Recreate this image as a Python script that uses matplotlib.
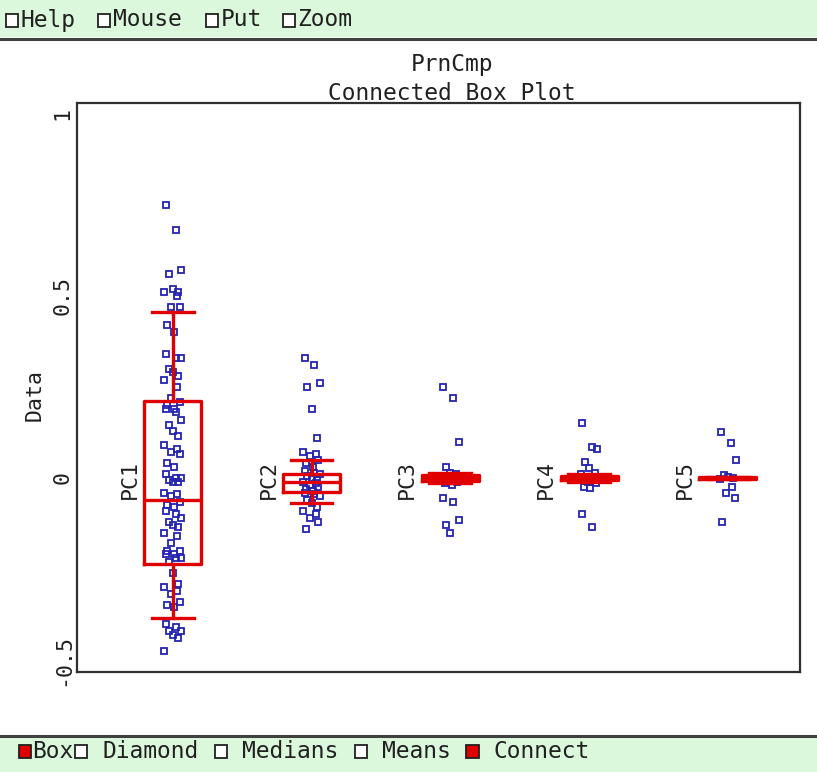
import matplotlib
matplotlib.use("Agg")
import matplotlib.pyplot as plt
from matplotlib.patches import Rectangle
from matplotlib.lines import Line2D

W, H = 817, 772
FONT = "DejaVu Sans Mono"
FS = 16.5

groups = ["PC1", "PC2", "PC3", "PC4", "PC5"]

pc1 = [0.75, 0.68, 0.57, 0.56, 0.52, 0.51, 0.51, 0.50, 0.47, 0.47, 0.42, 0.40,
       0.34, 0.33, 0.33, 0.30, 0.29, 0.28, 0.27, 0.25, 0.22, 0.21, 0.20, 0.19,
       0.19, 0.18, 0.16, 0.146, 0.13, 0.115, 0.09, 0.08, 0.07, 0.065, 0.04,
       0.03, 0.01, 0.0, 0.0, -0.005, -0.01, -0.01, -0.04, -0.045, -0.05,
       -0.065, -0.075, -0.08, -0.09, -0.10, -0.11, -0.12, -0.13, -0.135,
       -0.15, -0.16, -0.18, -0.20, -0.20, -0.21, -0.21, -0.22, -0.22, -0.23,
       -0.26, -0.29, -0.30, -0.31, -0.32, -0.34, -0.35, -0.355, -0.40, -0.41,
       -0.42, -0.42, -0.43, -0.44, -0.475]
pc2 = [0.33, 0.31, 0.26, 0.25, 0.19, 0.11, 0.07, 0.065, 0.06, 0.05, 0.04, 0.03,
       0.02, 0.015, 0.01, 0.005, 0.0, -0.005, -0.01, -0.015, -0.02, -0.025,
       -0.03, -0.035, -0.04, -0.045, -0.05, -0.06, -0.07, -0.08, -0.09, -0.10,
       -0.11, -0.12, -0.14]
pc3 = [0.25, 0.22, 0.10, 0.03, 0.015, 0.01, 0.005, 0.0, -0.005, -0.01, -0.015,
       -0.02, -0.055, -0.065, -0.115, -0.13, -0.15]
pc4 = [0.15, 0.085, 0.08, 0.045, 0.027, 0.015, 0.01, 0.0, -0.01, -0.015,
       -0.024, -0.027, -0.10, -0.135]
pc5 = [0.127, 0.095, 0.05, 0.008, 0.002, 0.0, -0.002, -0.024, -0.04, -0.055,
       -0.12]
values = [pc1, pc2, pc3, pc4, pc5]

# box summaries: lower whisker, q1, median, q3, upper whisker
whislo = [-0.385, -0.07, -0.015, -0.01, -0.003]
q1 = [-0.236, -0.038, -0.008, -0.005, -0.002]
med = [-0.06, -0.012, 0.0, 0.0, 0.0]
q3 = [0.212, 0.011, 0.008, 0.005, 0.002]
whishi = [0.456, 0.05, 0.015, 0.01, 0.003]

jitter = [-0.05, 0.02, 0.06, -0.03, 0.0, 0.04, -0.06, 0.03, -0.01, 0.05,
          -0.04, 0.01]

# menu lines, "#" marks a checkbox cell
top_menu = "#Help #Mouse #Put #Zoom"
top_checked = [False, False, False, False]
bottom_menu = "#Box# Diamond # Medians # Means # Connect"
bottom_checked = [True, False, False, False, True]

GREEN = "#dcf8dc"
RED = "#e00000"
BLUE = "#2424b0"
INK = "#202020"


def fx(px):
    return px / W


def fy(py):
    return 1 - py / H


fig = plt.figure(figsize=(W / 100, H / 100), dpi=100)
fig.patch.set_facecolor("white")

# tool bars
fig.add_artist(Rectangle((0, fy(37)), 1, 37 / H, transform=fig.transFigure,
                         facecolor=GREEN, edgecolor="none"))
fig.add_artist(Line2D([0, 1], [fy(39), fy(39)], transform=fig.transFigure,
                      color="#404040", lw=2.2))
fig.add_artist(Rectangle((0, 0), 1, 36 / H, transform=fig.transFigure,
                         facecolor=GREEN, edgecolor="none"))
fig.add_artist(Line2D([0, 1], [fy(736), fy(736)], transform=fig.transFigure,
                      color="#404040", lw=2.2))


def menu(line, checked, x0, cell, yc):
    boxes = iter(checked)
    word = ""
    start = 0
    for i, ch in enumerate(line + " "):
        if ch in "# ":
            if word:
                fig.text(fx(x0 + start * cell), fy(yc), word, family=FONT,
                         fontsize=FS, ha="left", va="center", color=INK)
                word = ""
            if ch == "#":
                on = next(boxes)
                fig.add_artist(Rectangle(
                    (fx(x0 + i * cell + 0.5), fy(yc + 6.5)), 12.5 / W, 13 / H,
                    transform=fig.transFigure,
                    facecolor=RED if on else "white",
                    edgecolor=INK, lw=1.3))
        else:
            if not word:
                start = i
            word += ch


menu(top_menu, top_checked, 5, 15.4, 20)
menu(bottom_menu, bottom_checked, 18, 14.0, 751)

# plot area
ax = fig.add_axes([fx(77), fy(672), fx(800) - fx(77), (672 - 103) / H])
ax.set_xlim(0.31, 5.52)
ax.set_ylim(-0.533, 1.03)

positions = list(range(1, len(groups) + 1))
for pos, vals in zip(positions, values):
    xs = [pos + jitter[i % len(jitter)] for i in range(len(vals))]
    ax.plot(xs, vals, linestyle="none", marker="s", markersize=5,
            markerfacecolor="none", markeredgecolor=BLUE, mew=1.3, zorder=2)

stats = [dict(whislo=a, q1=b, med=c, q3=d, whishi=e, label=g)
         for a, b, c, d, e, g in zip(whislo, q1, med, q3, whishi, groups)]
line = dict(color=RED, lw=2.4)
ax.bxp(stats, positions=positions, widths=0.41, capwidths=0.3,
       showfliers=False, boxprops=line, whiskerprops=line, capprops=line,
       medianprops=line, manage_ticks=False, zorder=3)

for pos, g in zip(positions, groups):
    ax.text(pos - 0.31, -0.005, g, rotation=90, ha="center", va="center",
            family=FONT, fontsize=FS - 1, color=INK)

ax.set_xticks([])
ax.set_yticks([-0.5, 0, 0.5, 1])
ax.set_yticklabels(["-0.5", "0", "0.5", "1"], rotation=90, va="center",
                   family=FONT, fontsize=FS - 1, color=INK)
ax.tick_params(axis="y", length=0, pad=3)
for s in ax.spines.values():
    s.set_linewidth(1.6)
    s.set_color("#303030")

fig.text(fx(35), fy(395), "Data", rotation=90, ha="center", va="center",
         family=FONT, fontsize=FS - 1, color=INK)
fig.text(fx(452), fy(65), "PrnCmp", ha="center", va="center",
         family=FONT, fontsize=FS, color=INK)
fig.text(fx(452), fy(94), "Connected Box Plot", ha="center", va="center",
         family=FONT, fontsize=FS, color=INK)

fig.savefig("out.png", dpi=100)
